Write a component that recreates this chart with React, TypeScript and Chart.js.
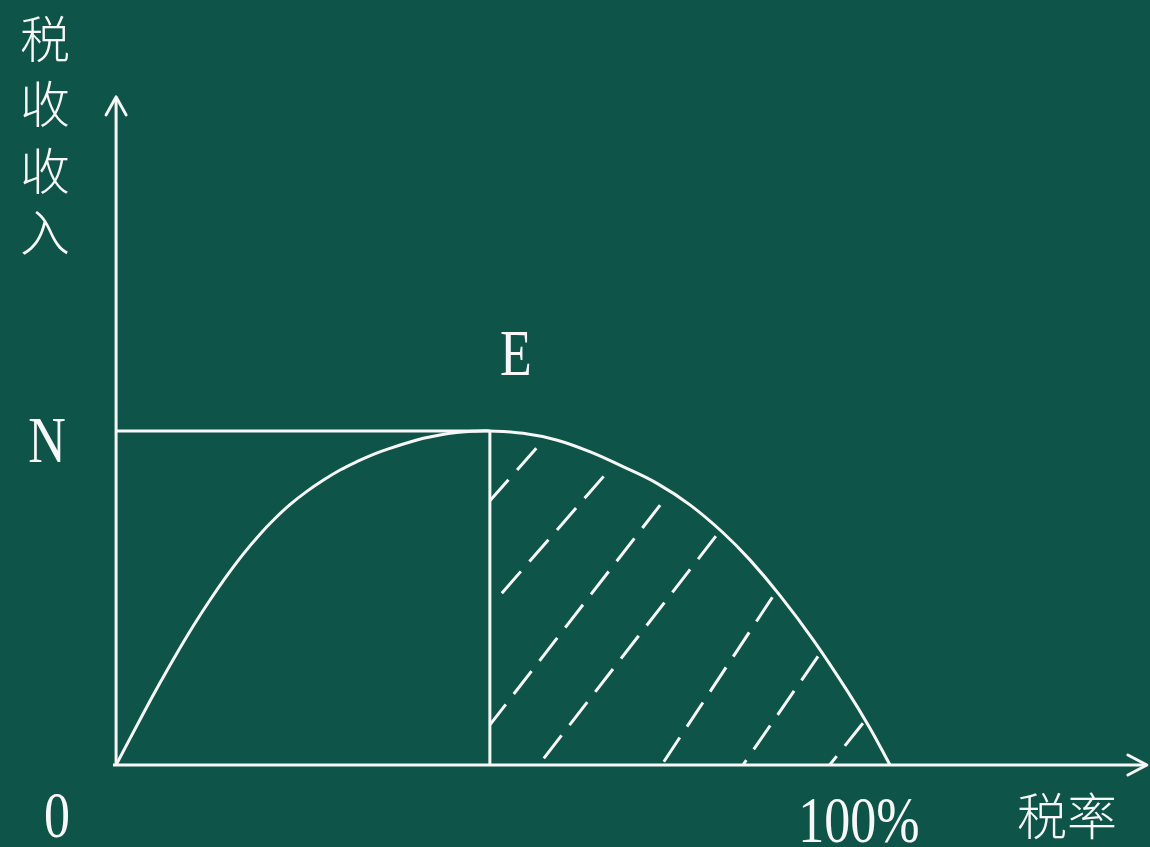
import React, { useEffect, useRef } from "react";
import { Chart, registerables } from "chart.js";

Chart.register(...registerables);

// Laffer curve: tax rate (%) vs tax revenue (N = 100)
const curveRate = [0, 3.53, 5.68, 7.84, 9.99, 12.14, 14.3, 16.45, 18.6, 20.5, 22.5, 24.65, 26.8, 28.95, 31.1, 33.25, 35.4, 37.55, 39.7, 41.85, 44.0, 46.15, 48.3, 52.6, 56.9, 61.2, 65.5, 69.9, 74.2, 78.4, 81.9, 85.8, 90.1, 94.4, 97.4, 100];
const curveRevenue = [0, 15.5, 24.6, 33.4, 41.7, 49.4, 56.6, 63.2, 69.1, 73.7, 78.0, 81.9, 85.3, 88.3, 90.8, 93.0, 94.8, 96.4, 97.8, 98.8, 99.5, 99.9, 100, 99.3, 97.3, 93.8, 89.3, 84.3, 77.8, 69.6, 61.4, 50.7, 37.4, 22.5, 11.1, 0];

const peakRate = 48.3;
const peakRevenue = 100;
const fullRate = 100;
const xAxisEnd = 133.2;
const yAxisEnd = 200;

// hatch lines (dashed) in the region right of E
const hatchTopRate = [54.3, 63.0, 70.3, 77.5, 84.8, 90.7, 96.5];
const hatchTopRevenue = [94.8, 86.4, 77.8, 68.5, 50.2, 32.5, 12.5];
const hatchBottomRate = [48.3, 49.2, 48.3, 54.6, 70.5, 81.0, 92.2];
const hatchBottomRevenue = [79.1, 49.7, 12.0, 0, 0, 0, 0];

const yTitleChars = ["税", "收", "收", "入"];
const xTitle = "税率";
const peakLabel = "E";
const levelLabel = "N";
const originLabel = "0";
const fullLabel = "100%";

const BG = "#0e5448";
const FG = "#f7f7f7";

export default function App() {
  const ref = useRef<HTMLCanvasElement | null>(null);

  useEffect(() => {
    if (!ref.current) return;
    const solid = (data: { x: number; y: number }[], extra: any = {}) => ({
      data,
      borderColor: FG,
      borderWidth: 3,
      pointRadius: 0,
      fill: false,
      tension: 0,
      ...extra,
    });

    const datasets: any[] = [
      solid(curveRate.map((x, i) => ({ x, y: curveRevenue[i] })), { tension: 0.4, borderJoinStyle: "round" }),
      solid([{ x: 0, y: peakRevenue }, { x: peakRate, y: peakRevenue }]),
      solid([{ x: peakRate, y: peakRevenue }, { x: peakRate, y: 0 }]),
      solid([{ x: -0.4, y: 0 }, { x: xAxisEnd, y: 0 }]),
      solid([{ x: 0, y: 0 }, { x: 0, y: yAxisEnd }]),
    ];
    hatchTopRate.forEach((tx, i) => {
      datasets.push(
        solid(
          [
            { x: tx, y: hatchTopRevenue[i] },
            { x: hatchBottomRate[i], y: hatchBottomRevenue[i] },
          ],
          { borderDash: [29, 13], borderCapStyle: "butt" }
        )
      );
    });

    const decor = {
      id: "decor",
      afterDatasetsDraw(chart: any) {
        const { ctx, scales } = chart;
        const xs = scales.x;
        const ys = scales.y;
        const ox = xs.getPixelForValue(0);
        const oy = ys.getPixelForValue(0);
        ctx.save();
        ctx.strokeStyle = FG;
        ctx.lineWidth = 3;
        ctx.lineCap = "round";
        ctx.lineJoin = "round";
        // y arrow
        const ty = ys.getPixelForValue(yAxisEnd);
        ctx.beginPath();
        ctx.moveTo(ox - 10, ty + 18);
        ctx.lineTo(ox, ty);
        ctx.lineTo(ox + 10, ty + 18);
        ctx.stroke();
        // x arrow
        const tx = xs.getPixelForValue(xAxisEnd);
        ctx.beginPath();
        ctx.moveTo(tx - 19, oy - 10);
        ctx.lineTo(tx, oy);
        ctx.lineTo(tx - 19, oy + 10);
        ctx.stroke();

        ctx.fillStyle = FG;
        const serif = (text: string, x: number, base: number) => {
          ctx.save();
          ctx.translate(x, base);
          ctx.scale(1, 1.25);
          ctx.font = '52px "Liberation Serif", "Times New Roman", serif';
          ctx.textAlign = "center";
          ctx.textBaseline = "alphabetic";
          ctx.fillText(text, 0, 0);
          ctx.restore();
        };
        const px = xs.getPixelForValue(peakRate);
        const pn = ys.getPixelForValue(peakRevenue);
        serif(peakLabel, px + 26, pn - 56);
        serif(levelLabel, ox - 69, pn + 31);
        serif(originLabel, ox - 59, oy + 72);
        serif(fullLabel, xs.getPixelForValue(fullRate) - 31, oy + 77);

        ctx.font = '300 50px "Noto Sans CJK SC", sans-serif';
        ctx.textAlign = "center";
        ctx.textBaseline = "middle";
        const ycY = [39, 104, 171, 232];
        yTitleChars.forEach((c, i) => ctx.fillText(c, ox - 71, ycY[i]));
        ctx.fillText(xTitle, 1067, oy + 51);
        ctx.restore();
      },
    };

    const chart = new Chart(ref.current, {
      type: "line",
      data: { datasets },
      options: {
        animation: false,
        responsive: false,
        maintainAspectRatio: false,
        parsing: false,
        layout: { padding: 0 },
        plugins: { legend: { display: false }, tooltip: { enabled: false } },
        scales: {
          x: { type: "linear", min: -15, max: 133.6, display: false },
          y: { type: "linear", min: -24.55, max: 229, display: false },
        },
      },
      plugins: [decor],
    });
    return () => chart.destroy();
  }, []);

  return (
    <div style={{ position: "fixed", left: 0, top: 0, width: 1150, height: 847, background: BG }}>
      <canvas ref={ref} width={1150} height={847} style={{ display: "block" }} />
    </div>
  );
}
